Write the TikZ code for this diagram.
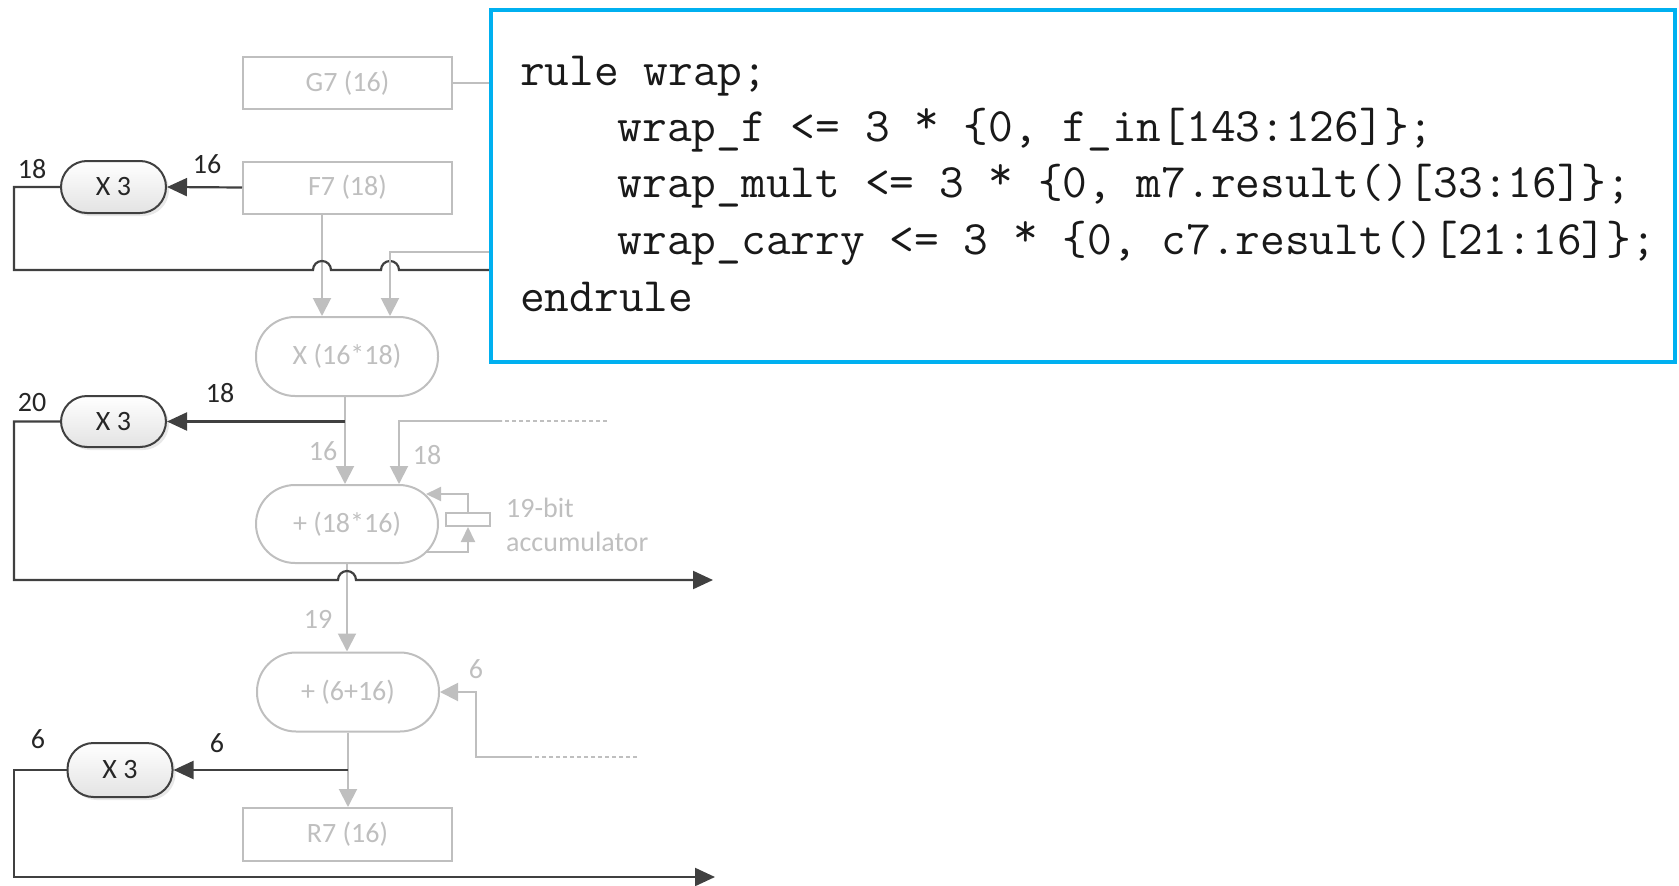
\documentclass[tikz,border=0pt]{standalone}
\usepackage{fontspec}
\setmainfont{Carlito}
\usetikzlibrary{arrows.meta,shadows}

\definecolor{fade}{HTML}{BFBFBF}
\definecolor{ink}{HTML}{404040}
\definecolor{labelink}{HTML}{262626}
\definecolor{frame}{HTML}{00B0F0}

% raised asterisk, as in the listing font
\newcommand\upstar{\raisebox{0.15em}{*}}

\begin{document}
\begin{tikzpicture}[x=1pt,y=-1pt,
  font=\fontsize{28}{34}\selectfont,
  faded/.style={draw=fade, line width=2pt, text=fade},
  register/.style={faded, minimum width=209pt, minimum height=52pt, inner sep=0pt},
  unit/.style={faded, minimum width=182pt, minimum height=79pt, rounded corners=39pt, inner sep=0pt},
  times/.style={draw=ink, line width=2pt, text=labelink, minimum width=105pt,
    minimum height=52pt, rounded corners=26pt, inner sep=0pt,
    top color=white, bottom color=black!11,
    drop shadow={opacity=0.18, shadow xshift=3pt, shadow yshift=-3pt}},
  flow/.style={draw=fade, line width=2pt, -{Triangle[length=18pt,width=18pt]}},
  flowsmall/.style={draw=fade, line width=2pt, -{Triangle[length=15pt,width=14pt]}},
  feed/.style={draw=fade, line width=2pt},
  dots/.style={draw=fade, line width=1.5pt, dash pattern=on 4pt off 3pt},
  wire/.style={draw=ink, line width=2.2pt},
  wirearrow/.style={wire, -{Triangle[length=20pt,width=18pt]}},
  width/.style={text=labelink, inner sep=0pt},
  fadewidth/.style={text=fade, inner sep=0pt},
  codetext/.style={anchor=base west, inner sep=0pt, text=black!90,
    font=\ttfamily\fontsize{48}{56}\selectfont\frenchspacing}
]
\useasboundingbox (0,0) rectangle (1679,886);

% registers and arithmetic units
\node[register] (G7) at (347.5,83) {G7 (16)};
\node[register] (F7) at (347.5,187.5) {F7 (18)};
\node[unit] (mul) at (347,356.5) {X (16*18)};
\node[unit, minimum height=78pt] (acc) at (347,524) {+ (18*16)};
\node[unit] (add) at (348,692) {+ (6+16)};
\node[register, minimum height=53pt] (R7) at (347.5,834.5) {R7 (16)};

% multiply-by-three taps
\node[times] (ta) at (113.5,187) {X 3};
\node[times, minimum height=51pt] (tb) at (113.5,421.5) {X 3};
\node[times, minimum height=54pt] (tc) at (120,770) {X 3};

% accumulator register
\node[faded, minimum width=44pt, minimum height=13pt, inner sep=0pt] (reg) at (468,519.5) {};
\node[fadewidth, anchor=west, align=left] (acclabel) at (506,525) {19-bit\\accumulator};

% routing points
\coordinate (colF) at (322,0);
\coordinate (colG) at (390,0);
\coordinate (colM) at (345,0);
\coordinate (colC) at (399,0);
\coordinate (leftrail) at (14,0);
\coordinate (ext18) at (502,421);
\coordinate (end18) at (607,421);
\coordinate (ext6) at (531,757);
\coordinate (end6) at (637,757);
\coordinate (bend6) at (476,692);
\coordinate (accIn) at (426,494);
\coordinate (accOut) at (426,552);
\coordinate (outA) at (713,580);
\coordinate (outB) at (715,877);

% gray data paths
\draw[flow] (F7.south -| colF) -- (mul.north -| colF);
\draw[flow] (mul.south -| colM) -- (acc.north -| colM);
\draw[dots] (end18) -- (ext18);
\draw[flow] (ext18) -| (acc.north -| colC);
\draw[flowsmall] (reg.north) |- (accIn);
\draw[flowsmall] (accOut) -| (reg.south);
\draw[flow] (acc.south) -- (acc.south |- add.north);
\draw[dots] (end6) -- (ext6);
\draw[flow] (ext6) -| (bend6) -- (add.east);
\draw[flow] (add.south) -- (add.south |- R7.north);

% dark wrap paths
\draw[wirearrow] (F7.west) -- (ta.east);
\draw[wirearrow] (tb.east -| colM) -- (tb.east);
\draw[wirearrow] (add.south |- tc.east) -- (tc.east);

\draw[wire] (ta.west) -- (leftrail |- ta.west) -- (14,270) -- (313,270)
  arc[start angle=180, end angle=0, radius=9pt] -- (381,270)
  arc[start angle=180, end angle=0, radius=9pt] -- (520,270);
\draw[wirearrow] (tb.west) -- (leftrail |- tb.west) -- (14,580) -- (338,580)
  arc[start angle=180, end angle=0, radius=9pt] -- (outA);
\draw[wirearrow] (tc.west) -- (leftrail |- tc.west) -- (14,877) -- (outB);

% feeds entering from the right
\draw[feed] (G7.east) -- (520,83);
\draw[flow] (520,252) -| (mul.north -| colG);

% bit widths
\node[width] (w1) at (32,169) {18};
\node[width] (w2) at (207,164) {16};
\node[width] (w3) at (220,393) {18};
\node[width] (w4) at (32,403) {20};
\node[width] (w5) at (38,739) {6};
\node[width] (w6) at (217,743) {6};
\node[fadewidth] (w7) at (323,451) {16};
\node[fadewidth] (w8) at (427,455) {18};
\node[fadewidth] (w9) at (318,619) {19};
\node[fadewidth] (w10) at (476,669) {6};

% code listing
\node[draw=frame, line width=4.5pt, fill=white, minimum width=1184pt,
  minimum height=352pt, inner sep=0pt] (code) at (1083,186) {};
\node[codetext] (l1) at (520,85) {rule wrap;};
\node[codetext] (l2) at (617.6,141) {wrap\_f <= 3 \upstar{} \{0, f\_in[143:126]\};};
\node[codetext] (l3) at (617.6,197) {wrap\_mult <= 3 \upstar{} \{0, m7.result()[33:16]\};};
\node[codetext] (l4) at (617.6,254) {wrap\_carry <= 3 \upstar{} \{0, c7.result()[21:16]\};};
\node[codetext] (l5) at (520,311) {endrule};
\end{tikzpicture}
\end{document}
